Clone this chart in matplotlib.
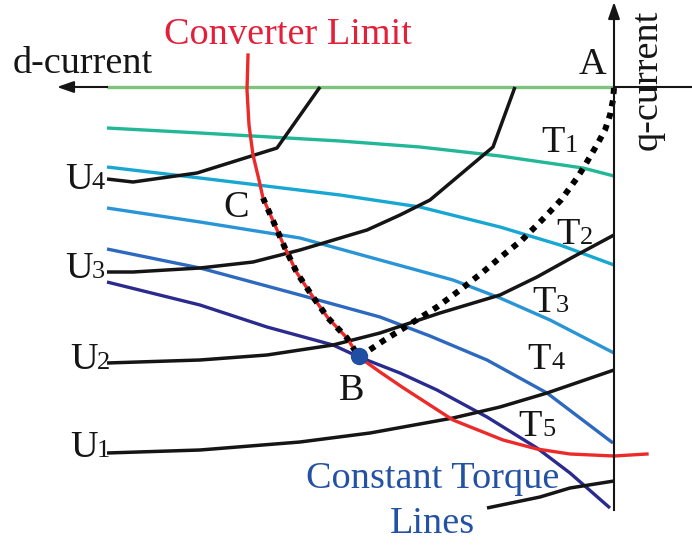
import matplotlib
matplotlib.use("Agg")
import matplotlib.pyplot as plt

plt.rcParams['font.family'] = ['Liberation Serif', 'DejaVu Serif']

# ---- data (diagram coordinates; y grows downward) ----
green_x = [107, 614]
green_y = [87, 87]

t1_x = [107, 200, 340, 420, 500, 583, 614]
t1_y = [128, 133, 141, 147, 156, 168, 176]

t2_x = [107, 200, 340, 420, 500, 560, 614]
t2_y = [167, 178, 195, 207, 227, 245, 265]

t3_x = [107, 200, 300, 380, 453, 500, 550, 614]
t3_y = [208, 222, 238, 260, 280, 298, 320, 353]

t4_x = [107, 200, 300, 380, 430, 487, 547, 613]
t4_y = [249, 268, 295, 317, 336, 360, 393, 443]

t5_x = [107, 200, 267, 333, 359, 400, 437, 487, 537, 570, 610]
t5_y = [282, 305, 327, 345, 357, 373, 390, 417, 448, 473, 508]

u4_x = [107, 133, 197, 277, 320]
u4_y = [179, 182, 173, 148, 87]

u3_x = [107, 133, 200, 253, 300, 367, 400, 430, 493, 515]
u3_y = [272, 272, 268, 262, 250, 230, 215, 200, 147, 87]

u2_x = [107, 200, 267, 333, 380, 440, 500, 537, 573, 614]
u2_y = [363, 360, 355, 345, 333, 313, 295, 277, 257, 235]

u1_x = [107, 200, 300, 370, 453, 500, 547, 614]
u1_y = [453, 450, 442, 433, 418, 407, 393, 370]

u0_x = [487, 540, 570, 614]
u0_y = [508, 497, 488, 481]

red_x = [248, 247, 249, 253, 259, 263, 274, 285, 297, 313, 328, 347, 359,
         380, 402, 453, 503, 537, 570, 614, 647]
red_y = [55, 90, 125, 155, 180, 198, 223, 248, 273, 297, 318, 338, 357,
         372, 387, 420, 440, 449, 454, 456, 454]

mtpa_x = [614, 613, 610, 605, 598, 591, 584, 577, 561, 542, 522, 502, 483,
          460, 437, 407, 383, 359]
mtpa_y = [88, 100, 115, 130, 143, 155, 167, 178, 200, 220, 240, 256, 272,
          290, 307, 326, 341, 357]

point_b = (359, 356)

t_labels = ['1', '2', '3', '4', '5']
t_label_x = [541, 556, 532, 527, 518]
t_label_y = [152, 244, 312, 369, 436]

u_labels = ['4', '3', '2', '1']
u_label_x = [65, 65, 70, 70]
u_label_y = [189, 278, 369, 457]

# ---- figure ----
fig = plt.figure(figsize=(6.92, 5.45), dpi=100)
ax = fig.add_axes([0, 0, 1, 1])
ax.set_xlim(0, 692)
ax.set_ylim(545, 0)
ax.axis('off')

colored = [
    (green_x, green_y, '#7dc37b'),
    (t1_x, t1_y, '#22b797'),
    (t2_x, t2_y, '#17a7d3'),
    (t3_x, t3_y, '#2a95d6'),
    (t4_x, t4_y, '#2c69bf'),
    (t5_x, t5_y, '#2b2a8e'),
]
for xs, ys, c in colored:
    ax.plot(xs, ys, color=c, lw=2.4, solid_capstyle='butt',
            solid_joinstyle='round', zorder=2)

for xs, ys in [(u4_x, u4_y), (u3_x, u3_y), (u2_x, u2_y), (u1_x, u1_y), (u0_x, u0_y)]:
    ax.plot(xs, ys, color='#151515', lw=2.5, solid_capstyle='butt',
            solid_joinstyle='round', zorder=3)

ax.plot(red_x, red_y, color='#ec2a2a', lw=2.4, solid_joinstyle='round', zorder=4)

# dotted trajectory A -> B -> C (along converter limit up to C)
ib = red_x.index(359)
ic = red_x.index(263)
dot_x = mtpa_x + red_x[ic:ib][::-1]
dot_y = mtpa_y + red_y[ic:ib][::-1]
ax.plot(dot_x, dot_y, color='black', lw=4.3, linestyle=(0, (1.0, 1.1)),
        dash_capstyle='butt', zorder=5)

ax.plot([point_b[0]], [point_b[1]], 'o', color='#1f4ea3', ms=11.5, zorder=6)

# axes
ax.plot([614, 614], [510, 14], color='#151515', lw=1.5, zorder=6)
ax.annotate('', xy=(614, 2), xytext=(614, 20),
            arrowprops=dict(arrowstyle='-|>,head_length=1.0,head_width=0.35',
                            color='#151515', lw=1.5, shrinkA=0, shrinkB=0), zorder=6)
ax.plot([614, 692], [87, 87], color='#151515', lw=1.5, zorder=6)
ax.plot([107, 70], [87, 87], color='#151515', lw=1.5, zorder=6)
ax.annotate('', xy=(57, 87), xytext=(75, 87),
            arrowprops=dict(arrowstyle='-|>,head_length=1.0,head_width=0.35',
                            color='#151515', lw=1.5, shrinkA=0, shrinkB=0), zorder=6)

fs = 27.5
fs_small = 19
ax.text(288, 44, 'Converter Limit', color='#e3203a', fontsize=fs,
        ha='center', va='baseline')
ax.text(83, 73, 'd-current', color='#151515', fontsize=fs,
        ha='center', va='baseline')
ax.text(647, 80, 'q-current', color='#151515', fontsize=fs,
        ha='center', va='center', rotation=90)
ax.text(592, 74, 'A', color='#151515', fontsize=fs, ha='center', va='baseline')
ax.text(236, 217, 'C', color='#151515', fontsize=fs, ha='center', va='baseline')
ax.text(352, 400, 'B', color='#151515', fontsize=fs, ha='center', va='baseline')

for lab, x, y in zip(t_labels, t_label_x, t_label_y):
    ax.text(x, y, 'T', color='#151515', fontsize=fs, ha='left', va='baseline')
    ax.text(x + 24, y, lab, color='#151515', fontsize=fs_small, ha='left', va='baseline')

for lab, x, y in zip(u_labels, u_label_x, u_label_y):
    ax.text(x, y, 'U', color='#151515', fontsize=fs, ha='left', va='baseline')
    ax.text(x + 27, y, lab, color='#151515', fontsize=fs_small, ha='left', va='baseline')

ax.text(433, 488, 'Constant Torque', color='#2352a4', fontsize=fs,
        ha='center', va='baseline')
ax.text(432, 533, 'Lines', color='#2352a4', fontsize=fs,
        ha='center', va='baseline')

fig.savefig('out.png', dpi=100)
